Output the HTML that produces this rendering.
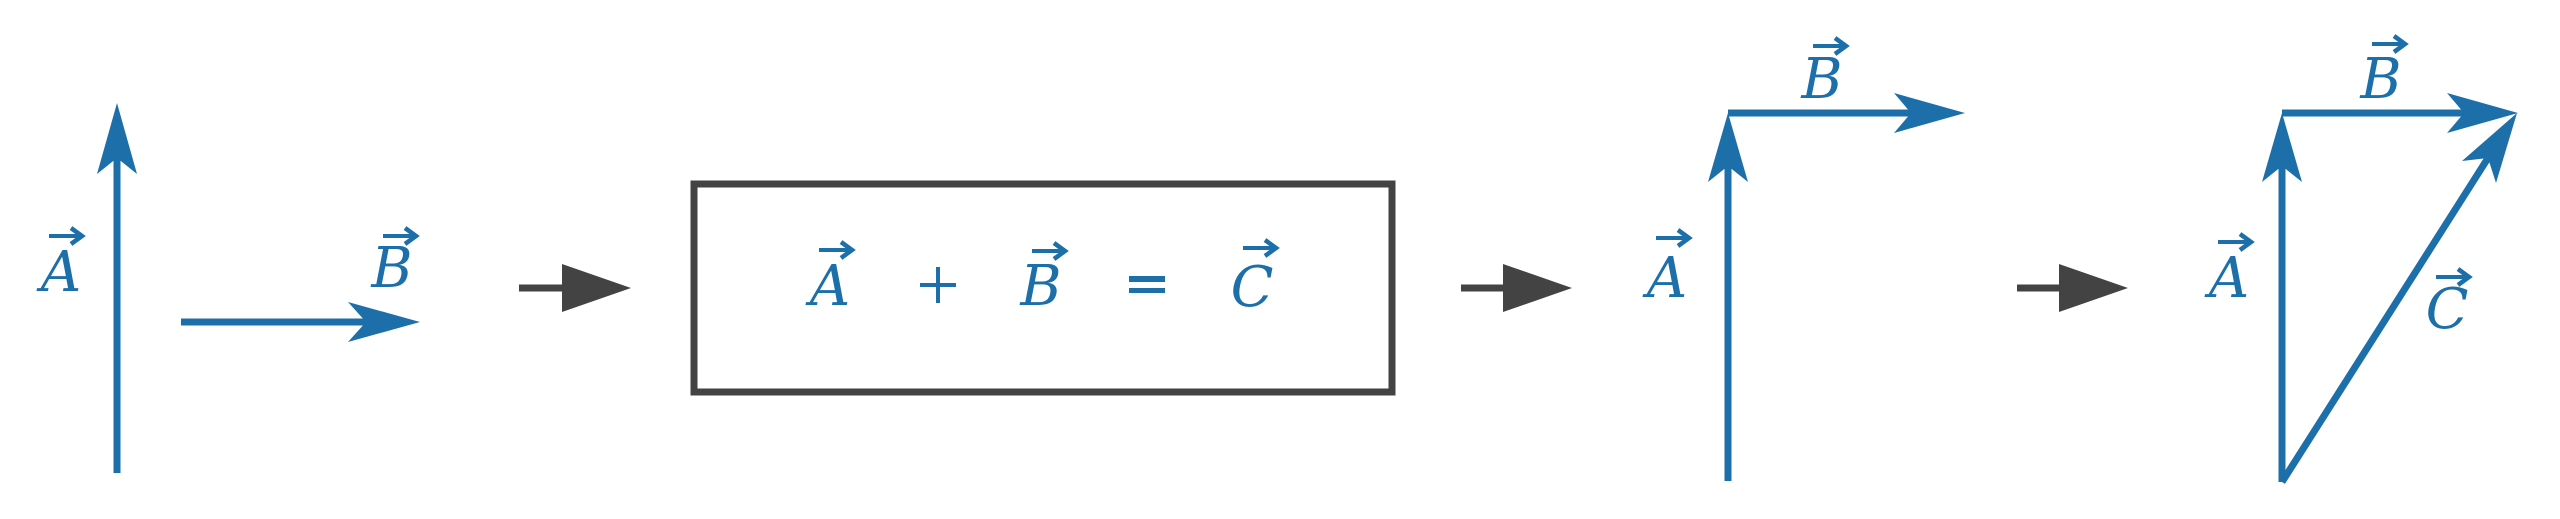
<!DOCTYPE html>
<html><head><meta charset="utf-8"><style>
html,body{margin:0;padding:0;background:#fff;}
svg{display:block;}
text{font-family:"DejaVu Serif","Liberation Serif",serif;font-style:italic;font-size:56px;fill:#1d6fa9;}
</style></head><body>
<svg width="2560" height="519" viewBox="0 0 2560 519" xmlns="http://www.w3.org/2000/svg">
<defs>
<g id="acc"><line x1="-17" y1="0" x2="13" y2="0" stroke="#1d6fa9" stroke-width="4"/><polyline points="5,-8 16,0 5,8" fill="none" stroke="#1d6fa9" stroke-width="4.5"/></g>
</defs>
<g stroke="#1d6fa9" stroke-width="7" fill="none">
<!-- panel 1 -->
<line x1="117" y1="473" x2="117" y2="155"/>
<line x1="181" y1="322" x2="370" y2="322"/>
<!-- panel 3 -->
<line x1="1728" y1="481" x2="1728" y2="165"/>
<line x1="1728" y1="113" x2="1915" y2="113"/>
<!-- panel 4 -->
<line x1="2282" y1="482" x2="2282" y2="165"/>
<line x1="2282" y1="113" x2="2468" y2="113"/>
<line x1="2282" y1="482" x2="2488" y2="158"/>
</g>
<g fill="#1d6fa9">
<polygon points="117,103 137,174 117,158 97,174"/>
<polygon points="420,322 348,342 366,322 348,302"/>
<polygon points="1728,113 1748,182 1728,166 1708,182"/>
<polygon points="1965,113 1894,133 1911,113 1894,93"/>
<polygon points="2282,113 2302,182 2282,166 2262,182"/>
<polygon points="2518,113 2447,133 2464,113 2447,93"/>
<polygon points="2517,113 2496,183 2488,158 2462,161"/>
</g>
<g fill="#434343" stroke="none">
<rect x="519" y="284.5" width="45" height="7"/>
<polygon points="562,264 631,288 562,312"/>
<rect x="1461" y="284.5" width="44" height="7"/>
<polygon points="1503,264 1572,288 1503,312"/>
<rect x="2017" y="284.5" width="44" height="7"/>
<polygon points="2059,264 2128,288 2059,312"/>
</g>
<rect x="694" y="184" width="698" height="208" fill="none" stroke="#434343" stroke-width="7"/>
<!-- labels -->
<text x="61" y="291" text-anchor="middle">A</text><use href="#acc" x="66" y="236"/>
<text x="392" y="287" text-anchor="middle">B</text><use href="#acc" x="400" y="236"/>
<text x="830" y="305" text-anchor="middle">A</text><use href="#acc" x="836" y="250"/>
<text x="1041" y="305" text-anchor="middle">B</text><use href="#acc" x="1049" y="251"/>
<text x="1252" y="306" text-anchor="middle">C</text><use href="#acc" x="1260" y="248"/>
<g fill="#1d6fa9"><rect x="920" y="283" width="36" height="4"/><rect x="936" y="267" width="4" height="36"/>
<rect x="1129" y="276" width="36" height="6"/><rect x="1129" y="288" width="36" height="5"/></g>
<text x="1667" y="297" text-anchor="middle">A</text><use href="#acc" x="1673" y="238"/>
<text x="1822" y="98" text-anchor="middle">B</text><use href="#acc" x="1830" y="46"/>
<text x="2229" y="297" text-anchor="middle">A</text><use href="#acc" x="2235" y="242"/>
<text x="2381" y="98" text-anchor="middle">B</text><use href="#acc" x="2389" y="44"/>
<text x="2447" y="328" text-anchor="middle">C</text><use href="#acc" x="2453" y="277"/>
</svg>
</body></html>
